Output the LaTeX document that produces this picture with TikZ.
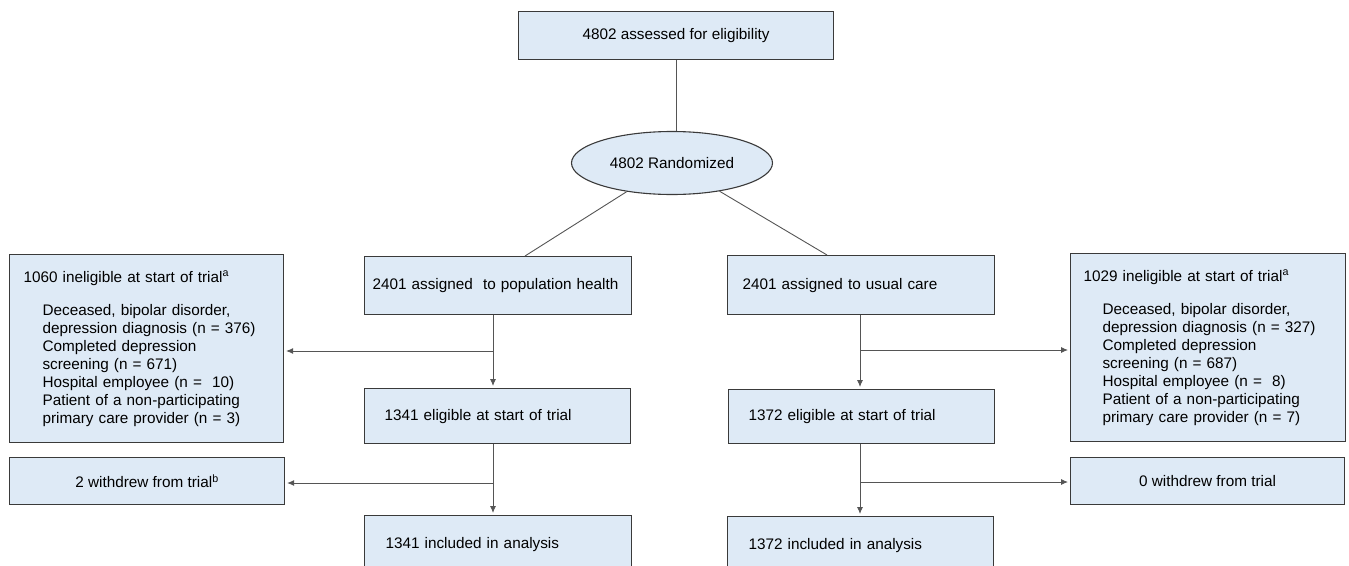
\documentclass[tikz,border=0pt]{standalone}
\usepackage{fontspec}
\setmainfont{Liberation Sans}
\usetikzlibrary{shapes.geometric,arrows.meta}
\newcommand{\ind}{\hspace*{19pt}}

\begin{document}
\begin{tikzpicture}[x=1pt,y=-1pt,
  flowbox/.style={draw=boxline,fill=boxfill,line width=1.1pt,rectangle,inner ysep=0pt,
    anchor=north west,align=left,font=\fontsize{15.3}{18}\selectfont},
  midbox/.style={flowbox,align=center,inner xsep=0pt},
  link/.style={draw=linkgray,line width=0.9pt},
  arr/.style={link,-{Latex[length=7pt,width=6pt]},shorten >=2pt}]
\definecolor{boxfill}{HTML}{DEEAF6}
\definecolor{boxline}{HTML}{3A3A3A}
\definecolor{linkgray}{HTML}{555555}
\useasboundingbox (0,0) rectangle (1349,565);

% top of the chart
\node[midbox,minimum width=315pt,minimum height=48pt] (assess) at (518,11) {4802 assessed for eligibility};
\node[flowbox,shape=ellipse,anchor=center,inner sep=0pt,minimum width=201pt,minimum height=63pt] (rand) at (672,163) {4802 Randomized};

% population health arm
\node[flowbox,inner xsep=8pt,text width=251pt,minimum height=58pt] (pop) at (364,256) {2401 assigned \ to population health};
\node[flowbox,inner xsep=20pt,text width=226pt,minimum height=55pt] (elig1) at (364,388) {1341 eligible at start of trial};
\node[flowbox,inner xsep=21pt,text width=225pt,minimum height=58pt] (incl1) at (364,515) {1341 included in analysis};

% usual care arm
\node[flowbox,inner xsep=15pt,text width=237pt,minimum height=59pt] (uc) at (727,255) {2401 assigned to usual care};
\node[flowbox,inner xsep=20pt,text width=226pt,minimum height=54pt] (elig2) at (728,389) {1372 eligible at start of trial};
\node[flowbox,inner xsep=21pt,text width=224pt,minimum height=58pt] (incl2) at (727,516) {1372 included in analysis};

% exclusions
\node[flowbox,inner xsep=14pt,text width=246pt,minimum height=188pt] (inel1) at (9,254) {1060 ineligible at start of trial\textsuperscript{a}\\[15pt]
  \ind Deceased, bipolar disorder,\\ \ind depression diagnosis (n = 376)\\ \ind Completed depression\\ \ind screening (n = 671)\\
  \ind Hospital employee (n = \ 10)\\ \ind Patient of a non-participating\\ \ind primary care provider (n = 3)};
\node[flowbox,inner xsep=13pt,text width=249pt,minimum height=188pt] (inel2) at (1070,253) {1029 ineligible at start of trial\textsuperscript{a}\\[15pt]
  \ind Deceased, bipolar disorder,\\ \ind depression diagnosis (n = 327)\\ \ind Completed depression\\ \ind screening (n = 687)\\
  \ind Hospital employee (n = \ 8)\\ \ind Patient of a non-participating\\ \ind primary care provider (n = 7)};
\node[midbox,minimum width=275pt,minimum height=47pt] (wd1) at (9,457) {2 withdrew from trial\textsuperscript{b}};
\node[midbox,minimum width=274pt,minimum height=47pt] (wd2) at (1070,457) {0 withdrew from trial};

% connectors
\coordinate (lsp) at (493,0);
\coordinate (rsp) at (860,0);
\coordinate (popin) at (525,256);
\coordinate (ucin) at (827,255);
\coordinate (lb1) at (493,351);
\coordinate (lb2) at (493,483);
\coordinate (rb1) at (860,350);
\coordinate (rb2) at (860,482);

\draw[link] (assess.south) -- (assess.south |- rand.north);
\draw[link] (rand) -- (popin);
\draw[link] (rand) -- (ucin);
\draw[arr] (pop.south -| lsp) -- (elig1.north -| lsp);
\draw[arr] (elig1.south -| lsp) -- (incl1.north -| lsp);
\draw[arr] (uc.south -| rsp) -- (elig2.north -| rsp);
\draw[arr] (elig2.south -| rsp) -- (incl2.north -| rsp);
\foreach \from/\to in {lb1/inel1.east,lb2/wd1.east,rb1/inel2.west,rb2/wd2.west}
  {\draw[arr] (\from) -- (\from -| \to);}
\end{tikzpicture}
\end{document}
